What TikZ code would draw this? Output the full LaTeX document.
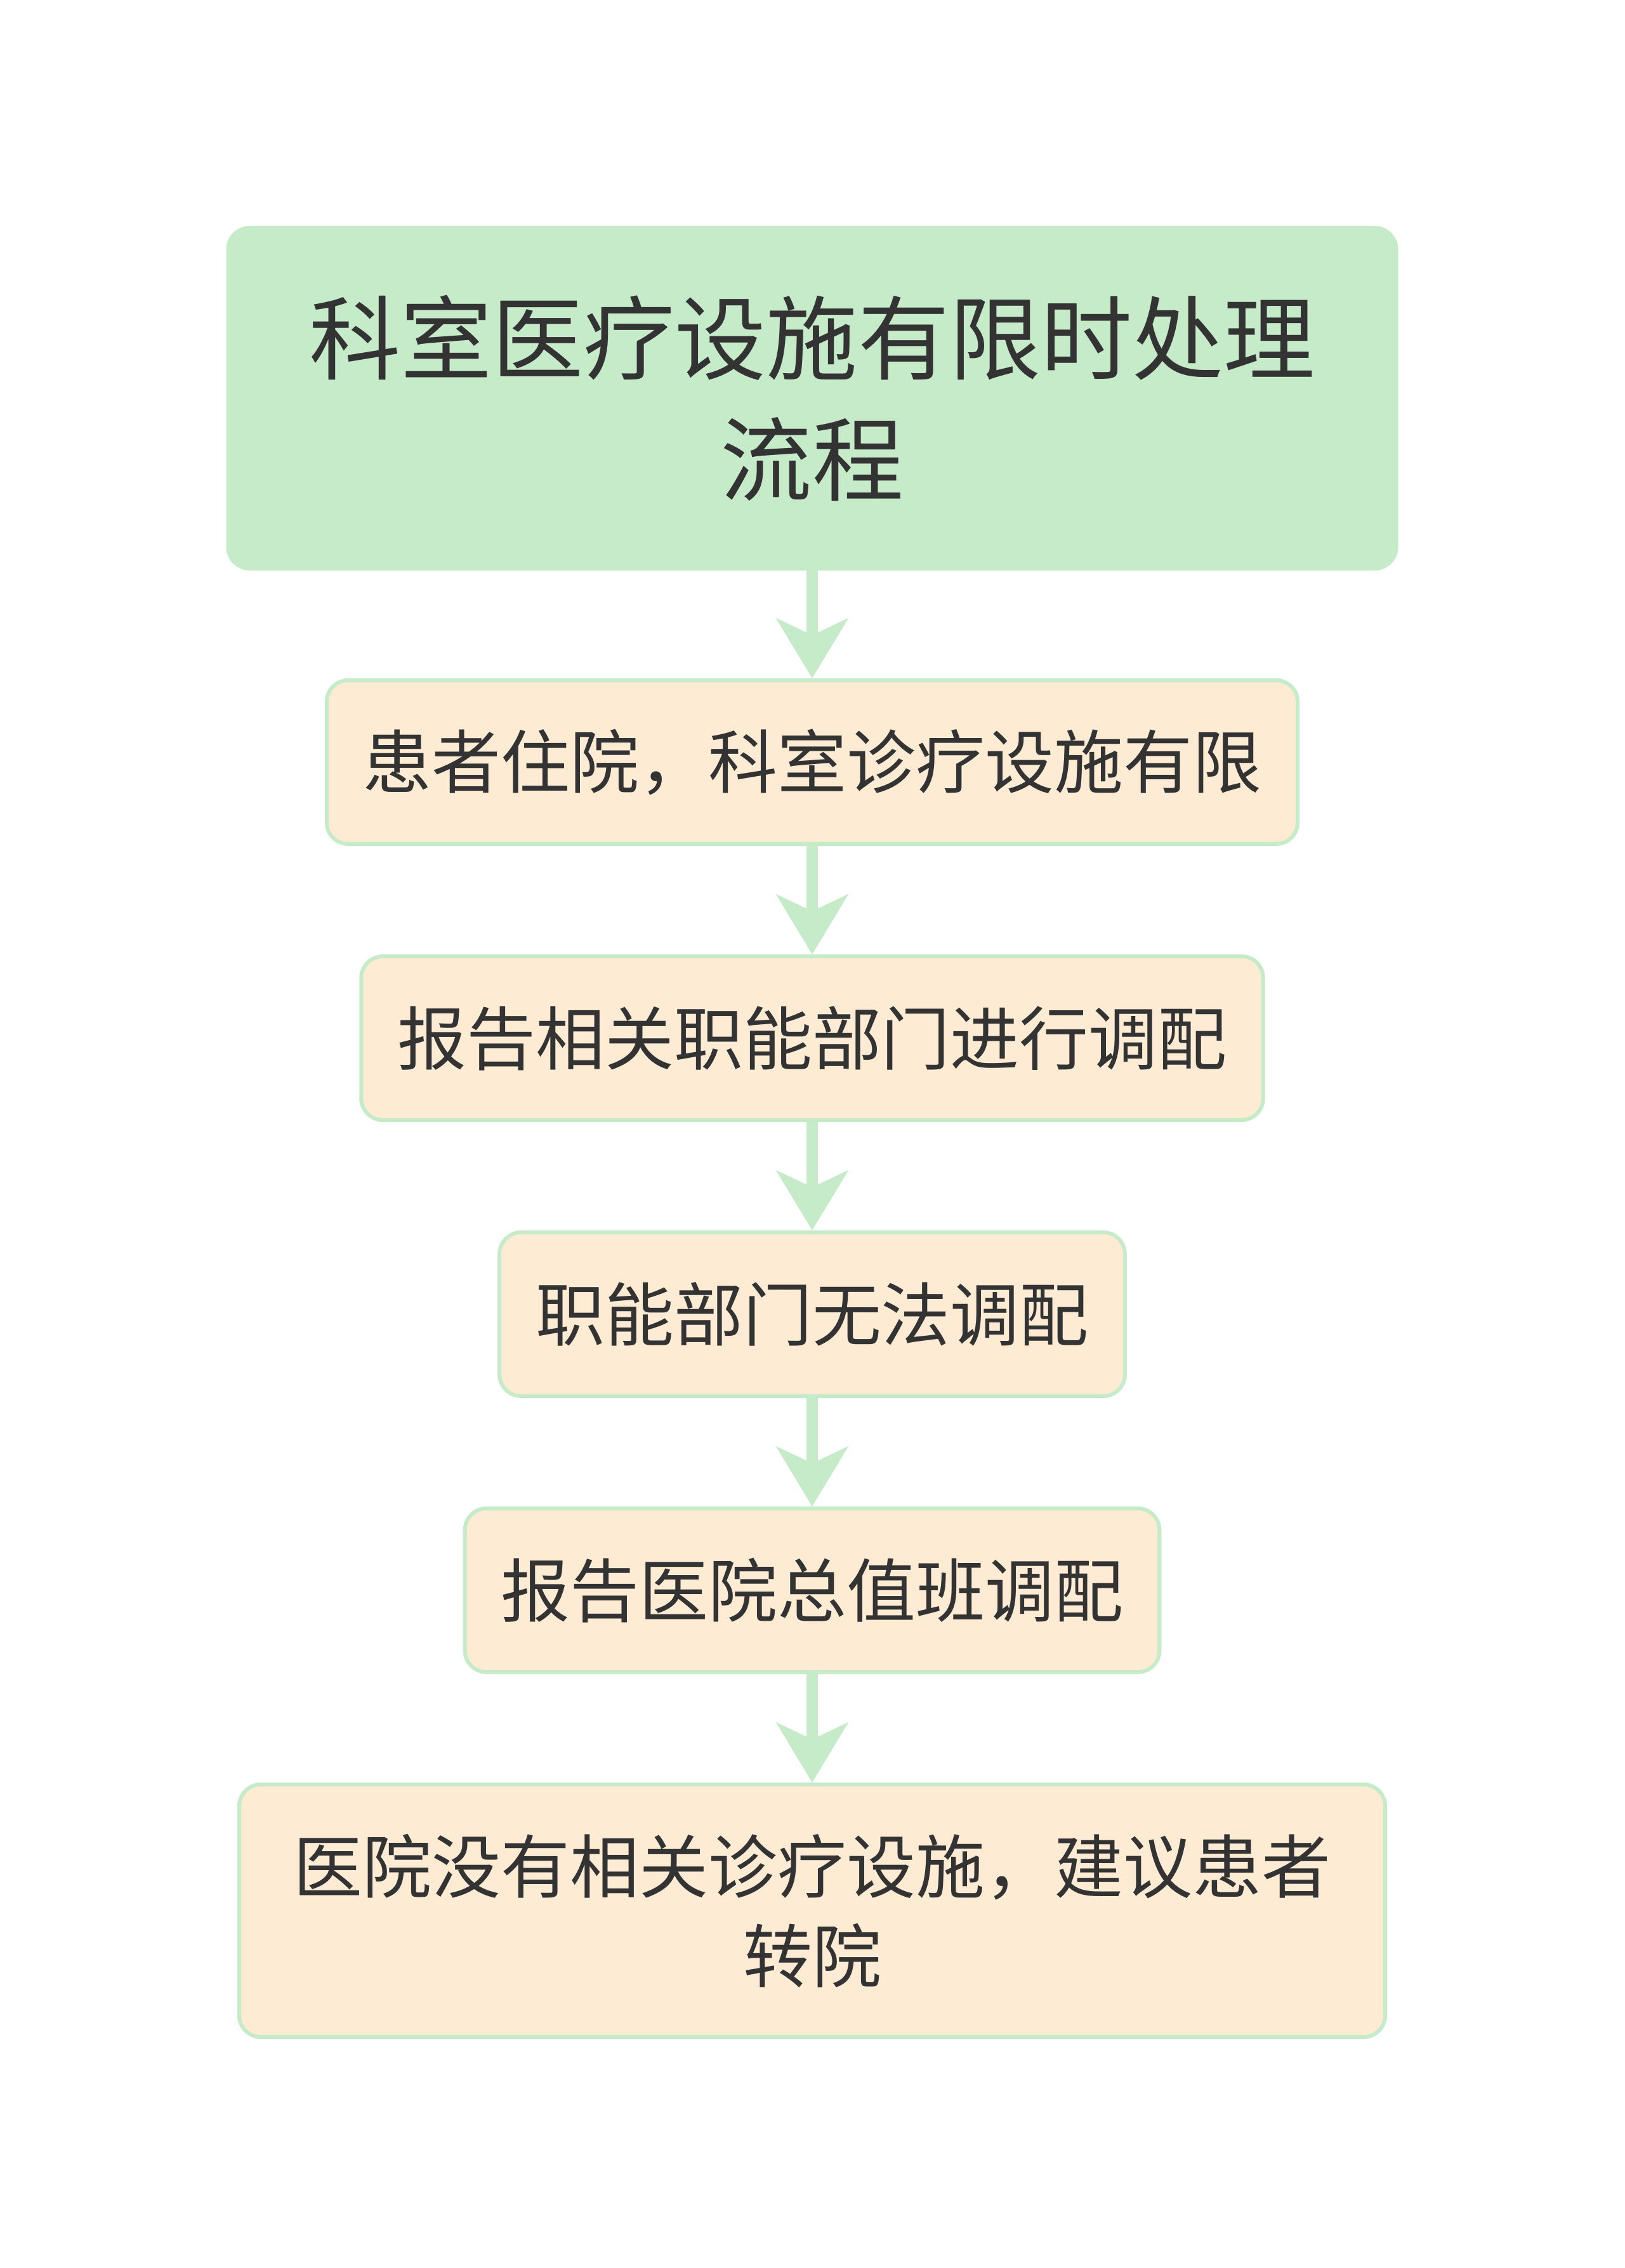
\documentclass[tikz,border=0pt]{standalone}
\usepackage{fontspec}
\setmainfont{Noto Sans CJK SC}
\usepackage{tikz}
\usetikzlibrary{arrows.meta}
\definecolor{mintgreen}{HTML}{C6EBC9}
\definecolor{peach}{HTML}{FDEBD4}
\definecolor{inkgray}{HTML}{333333}
\tikzstyle{heading} = [rectangle, draw=mintgreen, fill=mintgreen, line width=0.06cm, rounded corners=0.34cm, text=inkgray, align=center, minimum width=18.41cm, minimum height=5.37cm, font=\fontsize{41pt}{54.5pt}\selectfont]
\tikzstyle{process} = [rectangle, draw=mintgreen, fill=peach, line width=0.06cm, rounded corners=0.34cm, text=inkgray, align=center, inner xsep=0.57cm, minimum height=2.58cm, font=\fontsize{31pt}{40pt}\selectfont]
\tikzstyle{flow} = [draw=mintgreen, line width=0.18cm, -{Stealth[length=0.94cm, width=1.12cm, inset=0.26cm]}]

\begin{document}
\begin{tikzpicture}
        \fill[white] (0, 0) rectangle (25.6, -35.74);
        \useasboundingbox (0, 0) rectangle (25.6, -35.74);

        \node[heading] at (12.8, -6.275) (title) {科室医疗设施有限时处理\\流程};
        \node[process] at (12.8, -12.01) (admit) {患者住院，科室诊疗设施有限};
        \node[process] at (12.8, -16.36) (report) {报告相关职能部门进行调配};
        \node[process] at (12.8, -20.71) (nodept) {职能部门无法调配};
        \node[process] at (12.8, -25.06) (duty) {报告医院总值班调配};
        \node[process, minimum width=18.06cm, minimum height=3.98cm] at (12.8, -30.11) (transfer) {医院没有相关诊疗设施，建议患者\\转院};

        \draw[flow] (title) -- (admit);
        \draw[flow] (admit) -- (report);
        \draw[flow] (report) -- (nodept);
        \draw[flow] (nodept) -- (duty);
        \draw[flow] (duty) -- (transfer);
    \end{tikzpicture}
\end{document}
